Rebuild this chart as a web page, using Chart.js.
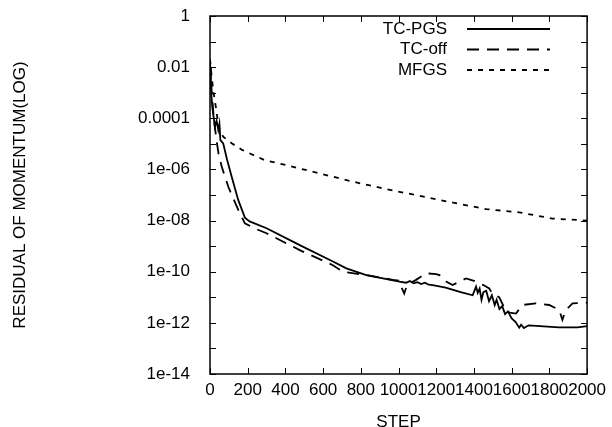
<!DOCTYPE html>
<html lang="en">
<head>
    <meta charset="UTF-8">
    <title>Residual of Momentum</title>
    <script src="https://cdn.jsdelivr.net/npm/chart.js"></script>
    <style>
        body {
            margin: 0;
            background: #fff;
        }

        #wrap {
            width: 612px;
            height: 427px;
        }
    </style>
</head>
<body>
<div id="wrap"><canvas id="residualChart"></canvas></div>

<script>
    // series
    const pgsSteps = [0, 5, 12, 26, 35, 44, 50, 55, 70, 90, 115, 150, 185, 210, 300, 476, 652, 723, 829, 1005,
        1040, 1060, 1080, 1100, 1120, 1140, 1160, 1181, 1250, 1330, 1393, 1411, 1420, 1430, 1440, 1450,
        1465, 1480, 1495, 1510, 1520, 1535, 1550, 1565, 1580, 1600, 1620, 1640, 1650, 1665, 1690, 1750, 1850,
        1950, 2000];
    const pgsResidual = [1e-2, 1.3e-3, 2.8e-4, 4.7e-5, 8e-5, 3.5e-5, 6e-5, 1.4e-5, 1.05e-5, 2.5e-6, 5.2e-7,
        6.3e-8, 1.3e-8, 9.3e-9, 5e-9, 1.1e-9, 2.5e-10, 1.35e-10, 7.4e-11, 4.1e-11,
        3.7e-11, 4.3e-11, 3.5e-11, 3.9e-11, 3.3e-11, 3.7e-11, 3.1e-11, 3e-11, 2.4e-11, 1.6e-11, 1.2e-11,
        2.6e-11, 1.5e-11, 2.2e-11, 8e-12, 1.6e-11,
        1.8e-11, 7e-12, 1.2e-11, 5e-12, 8e-12, 3.5e-12, 4.5e-12, 2.2e-12, 2.8e-12, 1.5e-12, 1.1e-12, 6.5e-13,
        8.5e-13, 6.3e-13, 8e-13, 7.4e-13, 6.6e-13, 6.6e-13, 7.4e-13];

    const offSteps = [0, 8, 20, 35, 45, 62, 97, 150, 185, 240, 300, 476, 652, 705, 829, 970, 1000, 1030, 1045,
        1093, 1146, 1200, 1217, 1252, 1287, 1323, 1358, 1411, 1450, 1481, 1500, 1534, 1560, 1590, 1623, 1657,
        1728, 1799, 1852, 1869, 1885, 1923, 2000];
    const offResidual = [1.5e-2, 1.5e-3, 1e-4, 1.3e-5, 4.3e-6, 1.3e-6, 2.1e-7, 2.6e-8, 7.8e-9, 4.8e-9, 3.2e-9,
        7e-10, 1.8e-10, 1e-10, 7.4e-11, 4.8e-11, 4.5e-11, 1.4e-11, 3e-11,
        4.8e-11, 8.7e-11, 8e-11, 7.4e-11, 4.1e-11, 3e-11, 4.1e-11, 5.5e-11, 4.1e-11, 3e-11, 2.2e-11, 1.3e-11,
        1e-11, 4e-12, 2.5e-12, 2.3e-12, 5e-12,
        5.8e-12, 5e-12, 3.2e-12, 1.3e-12, 3e-12, 5.8e-12, 6.2e-12];

    const mfgsSteps = [0, 8, 18, 35, 45, 70, 115, 170, 290, 400, 580, 760, 935, 1110, 1290, 1465, 1640, 1815, 2000];
    const mfgsResidual = [2e-2, 5e-3, 1.1e-3, 1.8e-4, 4.7e-5, 1.9e-5, 1.05e-5, 5.8e-6, 2.3e-6, 1.5e-6, 7e-7,
        3.3e-7, 1.7e-7, 9.3e-8, 5e-8, 2.8e-8, 2.1e-8, 1.2e-8, 1e-8];

    const seriesNames = ['TC-PGS', 'TC-off', 'MFGS'];

    // axis ticks
    const xTicks = [0, 200, 400, 600, 800, 1000, 1200, 1400, 1600, 1800, 2000];
    const yTicks = [1, 1e-1, 1e-2, 1e-3, 1e-4, 1e-5, 1e-6, 1e-7, 1e-8, 1e-9, 1e-10, 1e-11, 1e-12, 1e-13, 1e-14];
    const yTickLabels = ['1', '', '0.01', '', '0.0001', '', '1e-06', '', '1e-08', '', '1e-10', '', '1e-12', '', '1e-14'];

    const toPoints = (xs, ys) => xs.map((x, i) => ({x: x, y: ys[i]}));

    const FONT = 'Arial, "Liberation Sans", sans-serif';

    // gnuplot-like frame: inward ticks on all sides, legend at top right
    const framePlugin = {
        id: 'framePlugin',
        afterDatasetsDraw(chart) {
            const {ctx, chartArea: a, scales: {x, y}} = chart;
            ctx.save();
            ctx.strokeStyle = '#000';
            ctx.lineWidth = 1;
            ctx.beginPath();
            xTicks.forEach(v => {
                const p = Math.round(x.getPixelForValue(v)) + 0.5;
                ctx.moveTo(p, a.bottom); ctx.lineTo(p, a.bottom - 6);
                ctx.moveTo(p, a.top); ctx.lineTo(p, a.top + 6);
            });
            yTicks.forEach(v => {
                const p = Math.round(y.getPixelForValue(v)) + 0.5;
                ctx.moveTo(a.left, p); ctx.lineTo(a.left + 6, p);
                ctx.moveTo(a.right, p); ctx.lineTo(a.right - 6, p);
            });
            ctx.stroke();
            ctx.lineWidth = 1.5;
            ctx.strokeRect(a.left, a.top, a.width, a.height);

            // legend
            ctx.font = '17px ' + FONT;
            ctx.fillStyle = '#000';
            ctx.textAlign = 'right';
            ctx.textBaseline = 'middle';
            chart.data.datasets.forEach((ds, i) => {
                const ly = 29 + i * 20.5;
                ctx.fillText(ds.label, 447, ly);
                ctx.setLineDash(ds.borderDash || []);
                ctx.lineWidth = ds.borderWidth;
                ctx.beginPath();
                ctx.moveTo(467, ly);
                ctx.lineTo(550, ly);
                ctx.stroke();
            });
            ctx.restore();
        }
    };

    const ctx = document.getElementById('residualChart').getContext('2d');
    new Chart(ctx, {
        type: 'line',
        data: {
            datasets: [{
                label: seriesNames[0],
                data: toPoints(pgsSteps, pgsResidual),
                borderColor: '#000',
                borderWidth: 1.8,
                borderDash: []
            }, {
                label: seriesNames[1],
                data: toPoints(offSteps, offResidual),
                borderColor: '#000',
                borderWidth: 1.8,
                borderDash: [12, 8]
            }, {
                label: seriesNames[2],
                data: toPoints(mfgsSteps, mfgsResidual),
                borderColor: '#000',
                borderWidth: 1.8,
                borderDash: [5, 6]
            }]
        },
        options: {
            responsive: true,
            maintainAspectRatio: false,
            animation: false,
            events: [],
            elements: {
                point: {radius: 0},
                line: {tension: 0, fill: false}
            },
            layout: {
                padding: {left: 0, right: 24, top: 16, bottom: 0}
            },
            plugins: {
                legend: {display: false},
                tooltip: {enabled: false}
            },
            scales: {
                x: {
                    type: 'linear',
                    min: 0,
                    max: 2000,
                    afterBuildTicks: scale => {
                        scale.ticks = xTicks.map(v => ({value: v}));
                    },
                    afterFit: scale => {
                        scale.height = 53;
                    },
                    grid: {display: false, drawTicks: false},
                    border: {display: false},
                    ticks: {
                        color: '#000',
                        padding: 6,
                        maxRotation: 0,
                        autoSkip: false,
                        font: {family: FONT, size: 17},
                        callback: value => String(value)
                    },
                    title: {
                        display: true,
                        text: 'STEP',
                        color: '#000',
                        padding: {top: 0, bottom: 0},
                        font: {family: FONT, size: 17, lineHeight: 0.6}
                    }
                },
                y: {
                    type: 'logarithmic',
                    min: 1e-14,
                    max: 1,
                    afterBuildTicks: scale => {
                        scale.ticks = yTicks.map(v => ({value: v}));
                    },
                    afterFit: scale => {
                        scale.width = 210;
                        scale.paddingTop = 0;
                        scale.paddingBottom = 0;
                    },
                    grid: {display: false, drawTicks: false},
                    border: {display: false},
                    ticks: {
                        color: '#000',
                        padding: 20,
                        autoSkip: false,
                        font: {family: FONT, size: 17},
                        callback: (value, index) => yTickLabels[index]
                    },
                    title: {
                        display: true,
                        text: 'RESIDUAL OF MOMENTUM(LOG)',
                        color: '#000',
                        padding: {top: 10, bottom: 0},
                        font: {family: FONT, size: 17}
                    }
                }
            }
        },
        plugins: [framePlugin]
    });
</script>
</body>
</html>
